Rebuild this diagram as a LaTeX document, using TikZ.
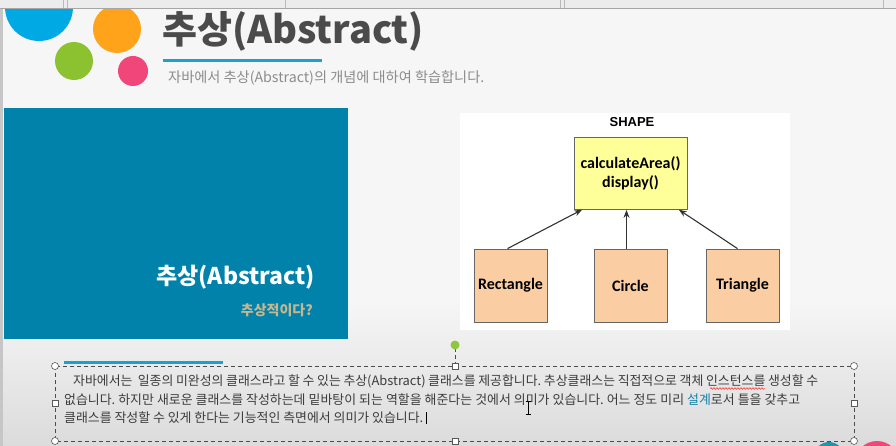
\documentclass[tikz,border=0pt]{standalone}
\usepackage{fontspec}
\setmainfont{Noto Sans CJK KR}
\newfontfamily\krfont{Noto Sans CJK KR}
\newfontfamily\umlfont{Carlito}
\newfontfamily\capfont{Liberation Sans}
\usepackage{tikz}
\usetikzlibrary{arrows.meta,calc,decorations.pathmorphing}
\usepackage{xcolor}
\definecolor{slideblue}{RGB}{0,130,170}
\definecolor{lineblue}{RGB}{26,160,210}
\definecolor{titlegray}{RGB}{75,75,75}
\definecolor{subgray}{RGB}{140,140,140}
\definecolor{bodygray}{RGB}{60,60,60}
\definecolor{tan}{RGB}{200,182,142}
\definecolor{umlyellow}{RGB}{255,255,153}
\definecolor{umlorange}{RGB}{250,206,162}
\definecolor{handlegreen}{RGB}{141,198,63}
\definecolor{dotblue}{RGB}{0,168,228}
\definecolor{dotorange}{RGB}{255,163,26}
\definecolor{dotgreen}{RGB}{140,194,48}
\definecolor{dotpink}{RGB}{240,70,122}
\definecolor{dotteal}{RGB}{30,150,170}

\begin{document}
\frenchspacing
\begin{tikzpicture}[x=1pt,y=1pt,>=Stealth,
  umlbox/.style={draw=gray!80!black, line width=0.8pt, inner sep=0pt, align=center, font=\umlfont\bfseries\fontsize{16}{19}\selectfont},
  childbox/.style={umlbox, fill=umlorange, minimum width=73, minimum height=73},
  inherit/.style={->, line width=1.1pt, draw=black!80, shorten >=0.5pt},
  bodyline/.style={anchor=west, inner sep=0pt, text=bodygray, font=\krfont\fontsize{12.9}{15}\selectfont},
  cornerhandle/.style={draw=gray!70!black, fill=white, line width=0.6pt},
  selbox/.style={draw=gray!60!black, line width=0.7pt, dash pattern=on 4pt off 3pt}]
  \useasboundingbox (0,0) rectangle (896,-446);
  % slide background
  \fill[gray!7] (0,0) rectangle (896,-446);
  \shade[top color=gray!7, bottom color=gray!28] (0,-300) rectangle (896,-446);
  \fill[gray!45] (0,0) rectangle (3,-446);
  % logo dots
  \fill[dotblue] (39,-7) circle (34);
  \fill[dotorange] (117,-29) circle (24);
  \fill[dotgreen] (74,-61) circle (19);
  \fill[dotpink] (133,-71) circle (15);
  % window bar
  \fill[gray!15] (0,0) rectangle (896,-8);
  \draw[gray!70, line width=1.5pt] (0,-8.5) -- (896,-8.5);
  \foreach \x in {63,67,285,560,564,883} \draw[gray!55] (\x,0) -- (\x,-8);
  % heading
  \node[anchor=west, inner sep=0pt, text=titlegray, font=\krfont\bfseries\fontsize{38}{42}\selectfont] (title) at (162,-31) {추상(Abstract)};
  \draw[lineblue, line width=3pt] (163,-61) -- (322,-61);
  \node[anchor=west, inner sep=0pt, text=subgray, font=\krfont\fontsize{14.2}{17}\selectfont] (subtitle) at (168,-78) {자바에서 추상(Abstract)의 개념에 대하여 학습합니다.};
  % blue panel
  \fill[slideblue] (4,-108) rectangle (348,-339);
  \node[anchor=east, inner sep=0pt, text=white, font=\krfont\bfseries\fontsize{23}{27}\selectfont] (paneltitle) at (315,-277) {추상(Abstract)};
  \node[anchor=east, inner sep=0pt, text=tan, font=\krfont\bfseries\fontsize{14}{17}\selectfont] (panelsub) at (313,-310) {추상적이다?};
  % class diagram
  \fill[white] (460,-113) rectangle (790,-330);
  \node[inner sep=0pt, font=\capfont\bfseries\fontsize{13}{15}\selectfont] (shapename) at (632,-122) {SHAPE};
  \node[umlbox, fill=umlyellow, minimum width=113, minimum height=72] (shape) at (630.5,-173) {calculateArea()\\display()};
  \node[childbox] (rect) at (510.5,-285.5) {Rectangle};
  \node[childbox] (circ) at (630.5,-285.5) {Circle};
  \node[childbox] (tri) at (742.5,-285.5) {Triangle};
  \draw[inherit] ($(rect.north)+(-3,0)$) -- ($(shape.south west)+(9,0)$);
  \draw[inherit] ($(circ.north)+(-4,0)$) -- ($(shape.south)+(-4,0)$);
  \draw[inherit] ($(tri.north)+(-5,0)$) -- ($(shape.south east)+(-9,0)$);
  % text box
  \draw[lineblue, line width=3pt] (64,-362) -- (223,-362);
  \draw[selbox] (55,-366) rectangle (854,-441);
  \draw[selbox] (455,-348) -- (455,-366);
  \fill[handlegreen] (455,-345) circle (4.5);
  \foreach \x/\y in {55/-366,854/-366,55/-441,854/-441} \draw[cornerhandle] (\x,\y) circle (3.5);
  \foreach \x/\y in {455/-366,455/-441,55/-403.5,854/-403.5} \draw[cornerhandle] (\x-3,\y-3) rectangle (\x+3,\y+3);
  \node[bodyline] (line1) at (73,-381) {\makebox[745pt][s]{자바에서는 \ 일종의 미완성의 클래스라고 할 수 있는 추상(Abstract) 클래스를 제공합니다. 추상클래스는 직접적으로 객체 인스턴스를 생성할 수}};
  \node[bodyline] (line2) at (64,-400) {\makebox[736pt][s]{없습니다. 하지만 새로운 클래스를 작성하는데 밑바탕이 되는 역할을 해준다는 것에서 의미가 있습니다. 어느 정도 미리 {\color{lineblue!80!black}설계}로서 틀을 갖추고}};
  \node[bodyline] (line3) at (64,-418) {클래스를 작성할 수 있게 한다는 기능적인 측면에서 의미가 있습니다.};
  \draw[black, line width=1.2pt] ($(line3.east)+(3,6)$) -- ($(line3.east)+(3,-6)$);
  \draw[red, decorate, decoration={snake, amplitude=0.8pt, segment length=3pt}] (710,-388.5) -- (765,-388.5);
  % mouse pointer
  \draw[black, line width=0.8pt] (528,-401) -- (528,-414) (525.5,-401) -- (530.5,-401) (525.5,-414) -- (530.5,-414);
  % dots at the corner
  \fill[dotteal] (829,-457) circle (15);
  \fill[dotpink] (877,-463) circle (22);
\end{tikzpicture}
\end{document}
